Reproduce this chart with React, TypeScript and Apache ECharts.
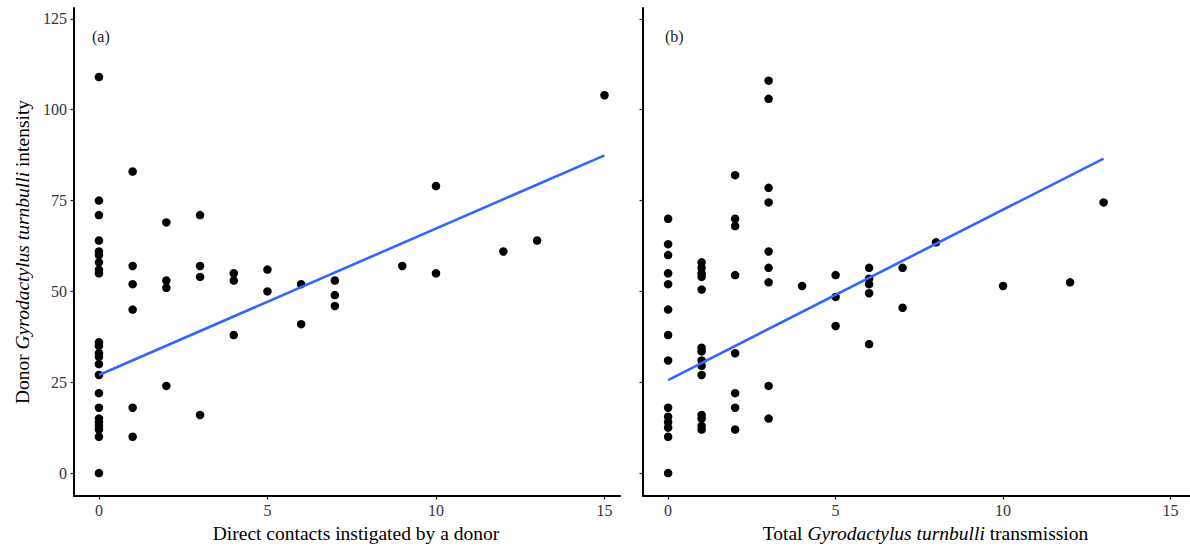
import React, { useEffect, useRef } from "react";
import * as echarts from "echarts";

// Panel (a): direct contacts instigated by a donor vs donor intensity
const contactsX = [
  0, 0, 0, 0, 0, 0, 0, 0, 0, 0, 0, 0, 0, 0, 0, 0, 0, 0, 0, 0, 0, 0, 0,
  1, 1, 1, 1, 1, 1,
  2, 2, 2, 2,
  3, 3, 3, 3,
  4, 4, 4,
  5, 5,
  6, 6,
  7, 7, 7,
  9,
  10, 10,
  12,
  13,
  15,
];
const intensityA = [
  109, 75, 71, 64, 61, 60, 58, 56, 55, 36, 35, 33, 32, 30, 27, 22, 18, 15, 14, 13, 12, 10, 0,
  83, 57, 52, 45, 18, 10,
  69, 53, 51, 24,
  71, 57, 54, 16,
  55, 53, 38,
  56, 50,
  52, 41,
  53, 49, 46,
  57,
  79, 55,
  61,
  64,
  104,
];

// Panel (b): total transmission vs donor intensity
const transmissionX = [
  0, 0, 0, 0, 0, 0, 0, 0, 0, 0, 0, 0, 0, 0,
  1, 1, 1, 1, 1, 1, 1, 1, 1, 1, 1, 1, 1, 1,
  2, 2, 2, 2, 2, 2, 2, 2,
  3, 3, 3, 3, 3, 3, 3, 3, 3,
  4,
  5, 5, 5,
  6, 6, 6, 6, 6,
  7, 7,
  8,
  10,
  12,
  13,
];
const intensityB = [
  70, 63, 60, 55, 52, 45, 38, 31, 18, 15.5, 14, 12.5, 10, 0,
  58, 56.5, 55, 54, 50.5, 34.5, 33.5, 31, 29.5, 27, 16, 15, 13, 12,
  82, 70, 68, 54.5, 33, 22, 18, 12,
  108, 103, 78.5, 74.5, 61, 56.5, 52.5, 24, 15,
  51.5,
  54.5, 48.5, 40.5,
  56.5, 53.5, 52, 49.5, 35.5,
  56.5, 45.5,
  63.5,
  51.5,
  52.5,
  74.5,
];

// Linear fits
const fitA = { intercept: 27.0, slope: 4.03, from: 0, to: 15 };
const fitB = { intercept: 25.6, slope: 4.69, from: 0, to: 13 };

const xTicks = [0, 5, 10, 15];
const yTicks = [0, 25, 50, 75, 100, 125];

const FONT = "Liberation Serif";

function pairs(xs: number[], ys: number[]) {
  return xs.map((x, i) => [x, ys[i]]);
}
function fitLine(f: { intercept: number; slope: number; from: number; to: number }) {
  return [
    [f.from, f.intercept + f.slope * f.from],
    [f.to, f.intercept + f.slope * f.to],
  ];
}

export default function App() {
  const ref = useRef<HTMLDivElement>(null);
  useEffect(() => {
    if (!ref.current) return;
    const chart = echarts.init(ref.current, null, { renderer: "svg" });
    const axisCommon = {
      axisLine: { show: true, onZero: false, lineStyle: { color: "#000", width: 2 } },
      axisTick: { show: true, length: 3.5, lineStyle: { color: "#222", width: 1.2 } },
      splitLine: { show: false },
    };
    const labelStyle = { fontFamily: FONT, fontSize: 16, color: "#333" };
    const nameStyle = {
      fontFamily: FONT,
      fontSize: 19.5,
      color: "#000",
      rich: { i: { fontFamily: FONT, fontSize: 19.5, fontStyle: "italic", color: "#000" } },
    };
    const xNameStyle = { ...nameStyle, padding: [0, 0, 0, 18] };
    chart.setOption({
      animation: false,
      backgroundColor: "#fff",
      grid: [
        { left: 74, top: 8, width: 546, height: 490 },
        { left: 643, top: 8, width: 547, height: 490 },
      ],
      xAxis: [
        {
          type: "value",
          gridIndex: 0,
          min: -0.74,
          max: 15.46,
          ...axisCommon,
          axisTick: { ...axisCommon.axisTick, customValues: xTicks },
          axisLabel: { ...labelStyle, margin: 6, customValues: xTicks },
          name: "Direct contacts instigated by a donor",
          nameLocation: "middle",
          nameGap: 27,
          nameTextStyle: xNameStyle,
        },
        {
          type: "value",
          gridIndex: 1,
          min: -0.75,
          max: 15.58,
          ...axisCommon,
          axisTick: { ...axisCommon.axisTick, customValues: xTicks },
          axisLabel: { ...labelStyle, margin: 6, customValues: xTicks },
          name: "Total {i|Gyrodactylus turnbulli} transmission",
          nameLocation: "middle",
          nameGap: 27,
          nameTextStyle: xNameStyle,
        },
      ],
      yAxis: [
        {
          type: "value",
          gridIndex: 0,
          min: -6.3,
          max: 128,
          ...axisCommon,
          axisTick: { ...axisCommon.axisTick, customValues: yTicks },
          axisLabel: { ...labelStyle, margin: 7, customValues: yTicks },
          name: "Donor {i|Gyrodactylus turnbulli} intensity",
          nameLocation: "middle",
          nameGap: 42,
          nameTextStyle: nameStyle,
        },
        {
          type: "value",
          gridIndex: 1,
          min: -6.3,
          max: 128,
          ...axisCommon,
          axisTick: { ...axisCommon.axisTick, customValues: yTicks },
          axisLabel: { show: false },
        },
      ],
      series: [
        {
          type: "scatter",
          xAxisIndex: 0,
          yAxisIndex: 0,
          data: pairs(contactsX, intensityA),
          symbolSize: 8.5,
          itemStyle: { color: "#000", opacity: 1 },
        },
        {
          type: "line",
          xAxisIndex: 0,
          yAxisIndex: 0,
          data: fitLine(fitA),
          showSymbol: false,
          lineStyle: { color: "#3366FF", width: 2.6 },
        },
        {
          type: "scatter",
          xAxisIndex: 1,
          yAxisIndex: 1,
          data: pairs(transmissionX, intensityB),
          symbolSize: 8.5,
          itemStyle: { color: "#000", opacity: 1 },
        },
        {
          type: "line",
          xAxisIndex: 1,
          yAxisIndex: 1,
          data: fitLine(fitB),
          showSymbol: false,
          lineStyle: { color: "#3366FF", width: 2.6 },
        },
      ],
      graphic: [
        {
          type: "text",
          left: 92,
          top: 28,
          style: { text: "(a)", fontFamily: FONT, fontSize: 16, fill: "#222" },
        },
        {
          type: "text",
          left: 665,
          top: 28,
          style: { text: "(b)", fontFamily: FONT, fontSize: 16, fill: "#222" },
        },
      ],
    });
    return () => chart.dispose();
  }, []);
  return (
    <div
      ref={ref}
      style={{ position: "absolute", left: 0, top: 0, width: 1190, height: 548, background: "#fff" }}
    />
  );
}
